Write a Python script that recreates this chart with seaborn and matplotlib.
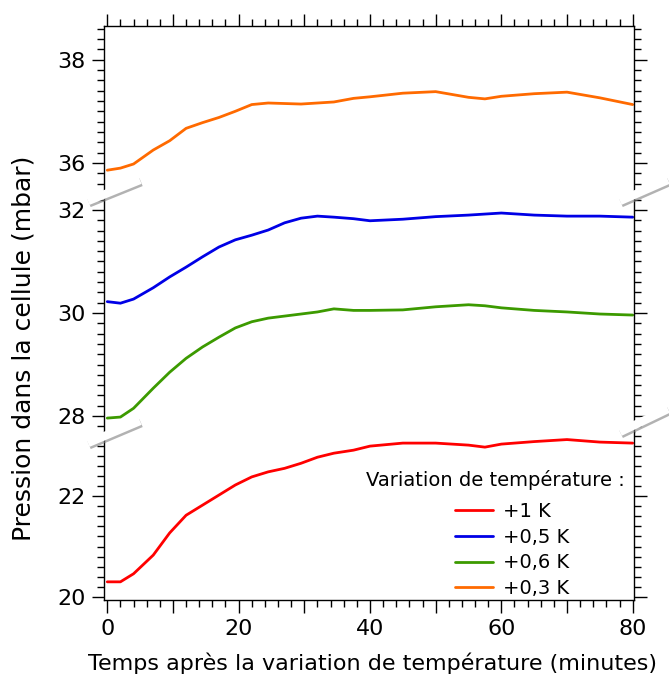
import numpy as np
import pandas as pd
import matplotlib
matplotlib.use("Agg")
import matplotlib.pyplot as plt
import matplotlib.patheffects as pe
from matplotlib.lines import Line2D
from matplotlib.ticker import MultipleLocator, FuncFormatter
import seaborn as sns

# ---------------- data ----------------
time_min = [0, 2, 4, 7, 9.5, 12, 14.5, 17, 19.5, 22, 24.5, 27, 29.5, 32, 34.5,
            37.5, 40, 45, 50, 55, 57.5, 60, 65, 70, 75, 80]
p_1K = [20.30, 20.30, 20.46, 20.83, 21.27, 21.62, 21.82, 22.02, 22.22, 22.38, 22.48,
        22.55, 22.65, 22.77, 22.85, 22.91, 22.99, 23.05, 23.05, 23.01, 22.97, 23.03,
        23.08, 23.12, 23.07, 23.05]
p_05K = [30.22, 30.19, 30.27, 30.49, 30.70, 30.89, 31.09, 31.28, 31.42, 31.51, 31.61,
         31.75, 31.84, 31.88, 31.86, 31.83, 31.79, 31.82, 31.87, 31.90, 31.92, 31.94,
         31.90, 31.88, 31.88, 31.86]
p_06K = [27.96, 27.98, 28.15, 28.54, 28.85, 29.12, 29.34, 29.53, 29.71, 29.83, 29.90,
         29.94, 29.98, 30.02, 30.08, 30.05, 30.05, 30.06, 30.12, 30.16, 30.14, 30.10,
         30.05, 30.02, 29.98, 29.96]
p_03K = [35.86, 35.90, 35.98, 36.25, 36.43, 36.67, 36.78, 36.88, 37.00, 37.13, 37.16,
         37.15, 37.14, 37.16, 37.18, 37.25, 37.28, 37.35, 37.38, 37.27, 37.24, 37.29,
         37.34, 37.37, 37.26, 37.13]
series_labels = ["+1 K", "+0,5 K", "+0,6 K", "+0,3 K"]
series_colors = ["#ff0000", "#0000e6", "#3c9a00", "#ff6a00"]

legend_title = "Variation de température :"
x_label = "Temps après la variation de température (minutes)"
y_label = "Pression dans la cellule (mbar)"

frames = []
for lab, vals in zip(series_labels, [p_1K, p_05K, p_06K, p_03K]):
    frames.append(pd.DataFrame({"t": time_min, "p": vals, "serie": lab}))
df = pd.concat(frames, ignore_index=True)

# ---------------- figure ----------------
sns.set_style("ticks")
plt.rcParams["font.family"] = ["DejaVu Sans"]
for k in ["text.color", "axes.labelcolor", "xtick.color", "ytick.color", "axes.edgecolor"]:
    plt.rcParams[k] = "black"
plt.rcParams["xtick.direction"] = "out"
plt.rcParams["ytick.direction"] = "out"

W, H = 669, 677
fig = plt.figure(figsize=(W / 100, H / 100), dpi=100)

left, right = 104 / W, 634 / W
top, bottom = 1 - 26 / H, 1 - 600 / H
gs = fig.add_gridspec(3, 1, height_ratios=[169, 237, 168], hspace=0,
                      left=left, right=right, top=top, bottom=bottom)
ax_top = fig.add_subplot(gs[0])
ax_mid = fig.add_subplot(gs[1], sharex=ax_top)
ax_bot = fig.add_subplot(gs[2], sharex=ax_top)
axes = [ax_top, ax_mid, ax_bot]
ylims = [(35.38, 38.65), (27.69, 32.29), (19.94, 23.27)]

palette = dict(zip(series_labels, series_colors))
for ax, yl in zip(axes, ylims):
    sns.lineplot(data=df, x="t", y="p", hue="serie", hue_order=series_labels,
                 palette=palette, linewidth=2.0, ax=ax, legend=(ax is ax_bot))
    ax.set_ylim(*yl)
    ax.set_xlim(-0.5, 80.2)
    ax.set_xlabel("")
    ax.set_ylabel("")
    ax.yaxis.set_major_locator(MultipleLocator(2))
    ax.yaxis.set_minor_locator(MultipleLocator(0.2))
    ax.yaxis.set_major_formatter(FuncFormatter(lambda v, p: f"{v:.0f}"))
    ax.xaxis.set_major_locator(MultipleLocator(10))
    ax.xaxis.set_minor_locator(MultipleLocator(2))
    ax.xaxis.set_major_formatter(FuncFormatter(lambda v, p: f"{v:.0f}" if round(v) % 20 == 0 else ""))
    for s in ax.spines.values():
        s.set_linewidth(1.0)
        s.set_color("black")
        s.set_visible(True)
    ax.tick_params(axis="y", which="both", direction="out", left=True, right=True,
                   labelleft=True, labelright=False, width=1.0, colors="black")
    ax.tick_params(axis="y", which="major", length=9, pad=4, labelsize=16)
    ax.tick_params(axis="y", which="minor", length=5)

ax_top.spines["bottom"].set_visible(False)
ax_mid.spines["top"].set_visible(False)
ax_mid.spines["bottom"].set_visible(False)
ax_bot.spines["top"].set_visible(False)

ax_top.tick_params(axis="x", which="both", direction="out", top=True, bottom=False,
                   labeltop=False, labelbottom=False, width=1.0)
ax_mid.tick_params(axis="x", which="both", top=False, bottom=False,
                   labeltop=False, labelbottom=False)
ax_bot.tick_params(axis="x", which="both", direction="out", bottom=True, top=False,
                   labelbottom=True, labeltop=False, width=1.0)
ax_bot.tick_params(axis="x", which="major", labelsize=16, pad=5)
for ax in (ax_top, ax_bot):
    ax.tick_params(axis="x", which="major", length=9)
    ax.tick_params(axis="x", which="minor", length=5)

# legend (entries) + title as text
sns.move_legend(ax_bot, "lower left", bbox_to_anchor=(455 / W, 1 - 598 / H),
                bbox_transform=fig.transFigure, title=None, frameon=False,
                fontsize=14, handlelength=1.95, handletextpad=0.5,
                labelspacing=0.34, borderpad=0, borderaxespad=0)
for h in ax_bot.get_legend().get_lines():
    h.set_linewidth(2.0)
fig.text(625 / W, 1 - 480 / H, legend_title, ha="right", va="center", fontsize=14)

# axis labels
fig.text(372 / W, 1 - 663 / H, x_label, ha="center", va="center", fontsize=16)
fig.text(24 / W, 1 - 348 / H, y_label, ha="center", va="center", rotation=90, fontsize=18)

# break marks
def brk(x0, y0, x1, y1):
    ln = Line2D([x0 / W, x1 / W], [1 - y0 / H, 1 - y1 / H], transform=fig.transFigure,
                color="white", linewidth=6, solid_capstyle="butt", zorder=10,
                path_effects=[pe.SimpleLineShadow(offset=(0.8, -1.6), shadow_color="#808080", alpha=0.6),
                              pe.Normal()])
    fig.add_artist(ln)

brk(88, 201, 140, 180)
brk(620, 201, 668, 180)
brk(88, 443, 140, 421)
brk(620, 432, 668, 409)

fig.savefig("out.png", dpi=100, facecolor="white")
